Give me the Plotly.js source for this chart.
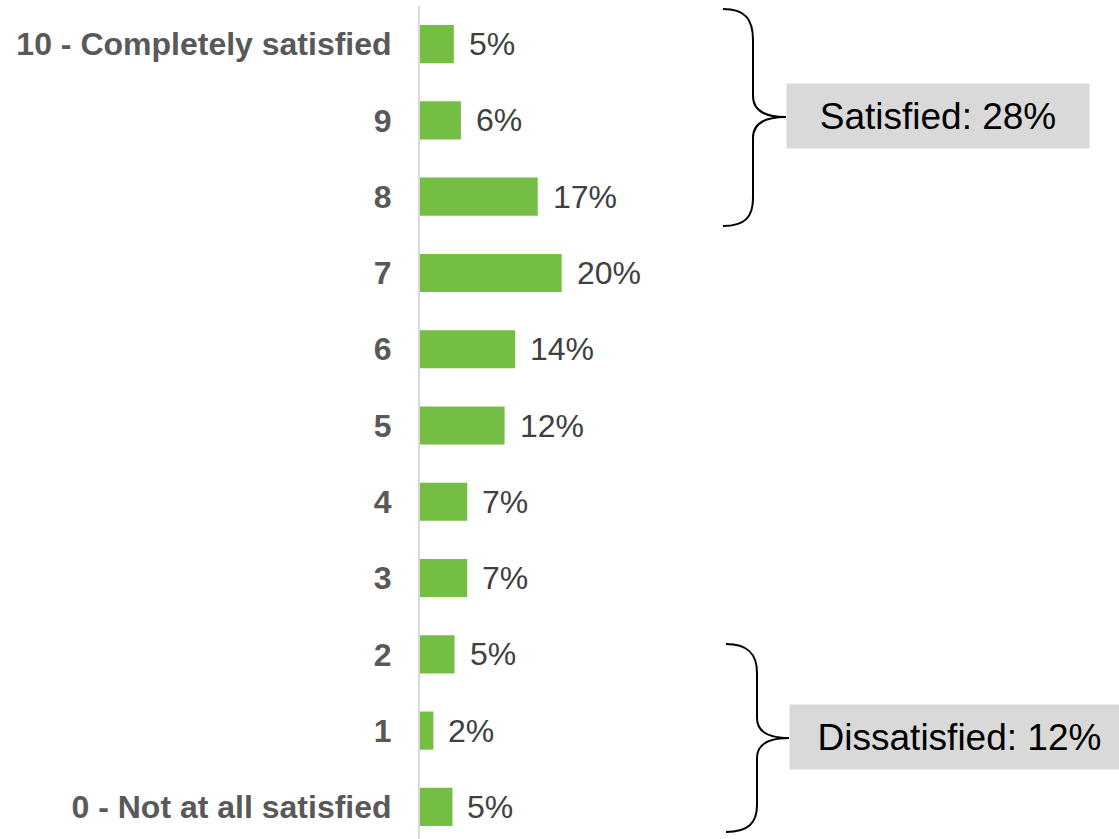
<!DOCTYPE html>
<html>
<head>
<meta charset="utf-8">
<script src="https://cdn.plot.ly/plotly-3.0.1.min.js"></script>
<style>
html, body { margin: 0; padding: 0; background: #ffffff; overflow: hidden; }
#chart { width: 1119px; height: 845px; }
</style>
</head>
<body>
<div id="chart"></div>
<script>
// ---- data ----
const categories = [
  "10 - Completely satisfied", "9", "8", "7", "6", "5", "4", "3", "2", "1", "0 - Not at all satisfied"
];
const values = [4.8, 5.8, 16.7, 20.1, 13.5, 12.0, 6.7, 6.7, 4.9, 1.9, 4.6];
const valueLabels = ["5%", "6%", "17%", "20%", "14%", "12%", "7%", "7%", "5%", "2%", "5%"];
const groupLabels = ["Satisfied: 28%", "Dissatisfied: 12%"];

// ---- layout geometry ----
const W = 1119, H = 845;
const L = 420, R = 0, T = 6, B = 0;
const plotW = W - L - R, plotH = H - T - B;
const px = x => ((x - L) / plotW).toFixed(5);
const py = y => ((H - B - y) / plotH).toFixed(5);
function path(cmds) {
  return cmds.map(c => {
    const pts = [];
    for (let i = 1; i < c.length; i += 2) pts.push(px(c[i]) + ',' + py(c[i + 1]));
    return c[0] + ' ' + pts.join(' ');
  }).join(' ');
}

const braceTop = path([
  ['M', 723, 9],
  ['C', 745, 9, 753, 19, 753, 40],
  ['L', 753, 96],
  ['C', 753, 110, 764, 117, 786, 117],
  ['C', 764, 117, 753, 124, 753, 138],
  ['L', 753, 198],
  ['C', 753, 217, 745, 226, 723, 226]
]);
const braceBottom = path([
  ['M', 726, 644],
  ['C', 748, 644, 757, 654, 757, 673],
  ['L', 757, 718],
  ['C', 757, 731, 767, 738, 789, 738],
  ['C', 767, 738, 757, 745, 757, 758],
  ['L', 757, 805],
  ['C', 757, 823, 748, 832, 726, 832]
]);

const trace = {
  type: 'bar',
  orientation: 'h',
  y: categories,
  x: values,
  marker: { color: '#74BE44' },
  hoverinfo: 'skip'
};

// annotations placed by category index (labels like "9" would otherwise be read as indices)
const valueAnnotations = categories.map((c, i) => ({
  x: values[i], y: i, xref: 'x', yref: 'y',
  text: valueLabels[i], showarrow: false,
  xanchor: 'left', yanchor: 'middle', xshift: 13,
  font: { family: 'Liberation Sans, Arial, sans-serif', size: 32, color: '#404040' }
}));

const boxFont = { family: 'Liberation Sans, Arial, sans-serif', size: 37, color: '#000000' };
const boxAnnotations = [
  { xref: 'paper', yref: 'paper', x: px(938), y: py(116), xanchor: 'center', yanchor: 'middle',
    text: groupLabels[0], showarrow: false, bgcolor: '#D9D9D9', width: 302, height: 64, borderpad: 0,
    align: 'center', font: boxFont },
  { xref: 'paper', yref: 'paper', x: px(959.5), y: py(737), xanchor: 'center', yanchor: 'middle',
    text: groupLabels[1], showarrow: false, bgcolor: '#D9D9D9', width: 339, height: 64, borderpad: 0,
    align: 'center', font: boxFont }
];

const layout = {
  width: W, height: H,
  margin: { l: L, r: R, t: T, b: B, pad: 0 },
  paper_bgcolor: '#ffffff', plot_bgcolor: '#ffffff',
  showlegend: false,
  bargap: 0.5,
  xaxis: {
    range: [0, plotW / 7.05], showgrid: false, zeroline: false, showline: false,
    showticklabels: false, ticks: '', fixedrange: true
  },
  yaxis: {
    type: 'category', autorange: 'reversed', showgrid: false, zeroline: false,
    showline: true, linecolor: '#D9D9D9', linewidth: 2,
    ticks: '', ticklabelstandoff: 20,
    tickfont: { family: 'Liberation Sans, Arial, sans-serif', size: 32, color: '#595959', weight: 'bold' },
    fixedrange: true
  },
  shapes: [
    { type: 'path', xref: 'paper', yref: 'paper', path: braceTop, line: { color: '#000000', width: 2 } },
    { type: 'path', xref: 'paper', yref: 'paper', path: braceBottom, line: { color: '#000000', width: 2 } }
  ],
  annotations: valueAnnotations.concat(boxAnnotations)
};

Plotly.newPlot('chart', [trace], layout, { displayModeBar: false, staticPlot: true });
</script>
</body>
</html>
